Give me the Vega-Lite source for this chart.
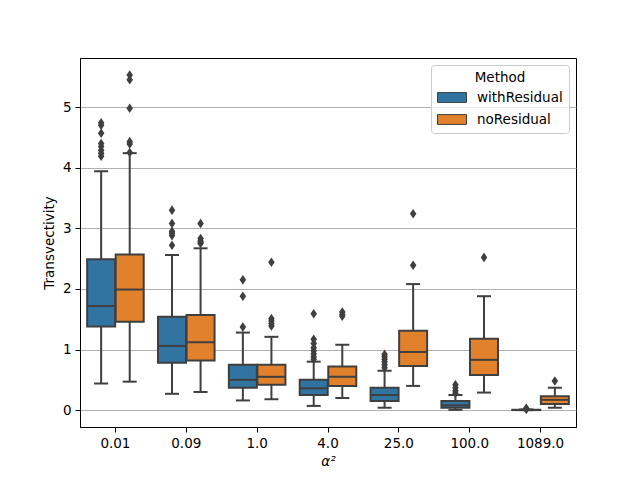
{
  "$schema": "https://vega.github.io/schema/vega-lite/v6.json",
  "autosize": {"type": "none"},
  "padding": {"left": 80, "top": 58, "right": 64, "bottom": 53},
  "width": 496,
  "height": 369,
  "background": "white",
  "config": {
    "font": "DejaVu Sans",
    "view": {"stroke": "black", "strokeWidth": 1},
    "axis": {
      "domainColor": "black",
      "domainWidth": 1,
      "tickColor": "black",
      "tickSize": 5,
      "tickWidth": 1,
      "labelFont": "DejaVu Sans",
      "labelFontSize": 13.5,
      "labelColor": "black",
      "labelPadding": 4,
      "titleFont": "DejaVu Sans",
      "titleFontSize": 13.5,
      "titleFontWeight": "normal",
      "titleColor": "black"
    },
    "legend": {
      "labelFont": "DejaVu Sans",
      "titleFont": "DejaVu Sans"
    }
  },
  "datasets": {
    "boxes": [
      {"alpha": "0.01", "method": "withResidual", "lower": 0.44, "q1": 1.38, "median": 1.72, "q3": 2.49, "upper": 3.94},
      {"alpha": "0.01", "method": "noResidual", "lower": 0.47, "q1": 1.46, "median": 1.99, "q3": 2.57, "upper": 4.24},
      {"alpha": "0.09", "method": "withResidual", "lower": 0.27, "q1": 0.78, "median": 1.06, "q3": 1.54, "upper": 2.56},
      {"alpha": "0.09", "method": "noResidual", "lower": 0.30, "q1": 0.82, "median": 1.12, "q3": 1.57, "upper": 2.67},
      {"alpha": "1.0", "method": "withResidual", "lower": 0.16, "q1": 0.37, "median": 0.50, "q3": 0.75, "upper": 1.28},
      {"alpha": "1.0", "method": "noResidual", "lower": 0.18, "q1": 0.42, "median": 0.55, "q3": 0.75, "upper": 1.21},
      {"alpha": "4.0", "method": "withResidual", "lower": 0.07, "q1": 0.25, "median": 0.36, "q3": 0.50, "upper": 0.80},
      {"alpha": "4.0", "method": "noResidual", "lower": 0.20, "q1": 0.40, "median": 0.55, "q3": 0.72, "upper": 1.08},
      {"alpha": "25.0", "method": "withResidual", "lower": 0.04, "q1": 0.15, "median": 0.25, "q3": 0.37, "upper": 0.65},
      {"alpha": "25.0", "method": "noResidual", "lower": 0.40, "q1": 0.73, "median": 0.96, "q3": 1.31, "upper": 2.08},
      {"alpha": "100.0", "method": "withResidual", "lower": 0.005, "q1": 0.04, "median": 0.08, "q3": 0.15, "upper": 0.25},
      {"alpha": "100.0", "method": "noResidual", "lower": 0.29, "q1": 0.58, "median": 0.83, "q3": 1.18, "upper": 1.88},
      {"alpha": "1089.0", "method": "withResidual", "lower": 0.0, "q1": 0.001, "median": 0.003, "q3": 0.006, "upper": 0.012},
      {"alpha": "1089.0", "method": "noResidual", "lower": 0.04, "q1": 0.10, "median": 0.17, "q3": 0.23, "upper": 0.37}
    ],
    "fliers": [
      {"alpha": "0.01", "method": "withResidual", "value": 4.74},
      {"alpha": "0.01", "method": "withResidual", "value": 4.70},
      {"alpha": "0.01", "method": "withResidual", "value": 4.57},
      {"alpha": "0.01", "method": "withResidual", "value": 4.40},
      {"alpha": "0.01", "method": "withResidual", "value": 4.35},
      {"alpha": "0.01", "method": "withResidual", "value": 4.29},
      {"alpha": "0.01", "method": "withResidual", "value": 4.24},
      {"alpha": "0.01", "method": "withResidual", "value": 4.19},
      {"alpha": "0.01", "method": "noResidual", "value": 5.53},
      {"alpha": "0.01", "method": "noResidual", "value": 5.45},
      {"alpha": "0.01", "method": "noResidual", "value": 4.98},
      {"alpha": "0.01", "method": "noResidual", "value": 4.43},
      {"alpha": "0.01", "method": "noResidual", "value": 4.39},
      {"alpha": "0.01", "method": "noResidual", "value": 4.25},
      {"alpha": "0.09", "method": "withResidual", "value": 3.30},
      {"alpha": "0.09", "method": "withResidual", "value": 3.08},
      {"alpha": "0.09", "method": "withResidual", "value": 2.95},
      {"alpha": "0.09", "method": "withResidual", "value": 2.92},
      {"alpha": "0.09", "method": "withResidual", "value": 2.88},
      {"alpha": "0.09", "method": "withResidual", "value": 2.72},
      {"alpha": "0.09", "method": "noResidual", "value": 3.08},
      {"alpha": "0.09", "method": "noResidual", "value": 2.83},
      {"alpha": "0.09", "method": "noResidual", "value": 2.79},
      {"alpha": "0.09", "method": "noResidual", "value": 2.77},
      {"alpha": "0.09", "method": "noResidual", "value": 2.75},
      {"alpha": "1.0", "method": "withResidual", "value": 2.15},
      {"alpha": "1.0", "method": "withResidual", "value": 1.88},
      {"alpha": "1.0", "method": "withResidual", "value": 1.37},
      {"alpha": "1.0", "method": "noResidual", "value": 2.44},
      {"alpha": "1.0", "method": "noResidual", "value": 1.51},
      {"alpha": "1.0", "method": "noResidual", "value": 1.47},
      {"alpha": "1.0", "method": "noResidual", "value": 1.43},
      {"alpha": "1.0", "method": "noResidual", "value": 1.39},
      {"alpha": "4.0", "method": "withResidual", "value": 1.59},
      {"alpha": "4.0", "method": "withResidual", "value": 1.17},
      {"alpha": "4.0", "method": "withResidual", "value": 1.10},
      {"alpha": "4.0", "method": "withResidual", "value": 1.03},
      {"alpha": "4.0", "method": "withResidual", "value": 0.98},
      {"alpha": "4.0", "method": "withResidual", "value": 0.93},
      {"alpha": "4.0", "method": "withResidual", "value": 0.88},
      {"alpha": "4.0", "method": "withResidual", "value": 0.84},
      {"alpha": "4.0", "method": "noResidual", "value": 1.62},
      {"alpha": "4.0", "method": "noResidual", "value": 1.58},
      {"alpha": "4.0", "method": "noResidual", "value": 1.55},
      {"alpha": "25.0", "method": "withResidual", "value": 0.92},
      {"alpha": "25.0", "method": "withResidual", "value": 0.88},
      {"alpha": "25.0", "method": "withResidual", "value": 0.84},
      {"alpha": "25.0", "method": "withResidual", "value": 0.80},
      {"alpha": "25.0", "method": "withResidual", "value": 0.75},
      {"alpha": "25.0", "method": "withResidual", "value": 0.70},
      {"alpha": "25.0", "method": "noResidual", "value": 3.24},
      {"alpha": "25.0", "method": "noResidual", "value": 2.39},
      {"alpha": "100.0", "method": "withResidual", "value": 0.42},
      {"alpha": "100.0", "method": "withResidual", "value": 0.37},
      {"alpha": "100.0", "method": "withResidual", "value": 0.32},
      {"alpha": "100.0", "method": "withResidual", "value": 0.28},
      {"alpha": "100.0", "method": "noResidual", "value": 2.52},
      {"alpha": "1089.0", "method": "withResidual", "value": 0.03},
      {"alpha": "1089.0", "method": "withResidual", "value": 0.02},
      {"alpha": "1089.0", "method": "withResidual", "value": 0.015},
      {"alpha": "1089.0", "method": "noResidual", "value": 0.48}
    ]
  },
  "encoding": {
    "x": {
      "field": "alpha",
      "type": "nominal",
      "scale": {
        "domain": ["0.01", "0.09", "1.0", "4.0", "25.0", "100.0", "1089.0"],
        "paddingInner": 0,
        "paddingOuter": 0
      },
      "axis": {"title": "α²", "titleFontStyle": "italic", "labelAngle": 0, "titlePadding": 5}
    },
    "xOffset": {
      "field": "method",
      "type": "nominal",
      "scale": {"domain": ["withResidual", "noResidual"], "paddingInner": 0.02, "paddingOuter": 0.25}
    }
  },
  "layer": [
    {
      "data": {"name": "boxes"},
      "mark": {"type": "rule", "color": "#3f3f3f", "strokeWidth": 2},
      "encoding": {
        "y": {
          "field": "lower",
          "type": "quantitative",
          "scale": {"domain": [-0.278, 5.81], "nice": false, "zero": false},
          "axis": {
            "title": "Transvectivity",
            "values": [0, 1, 2, 3, 4, 5],
            "format": "d",
            "grid": true,
            "gridColor": "#b0b0b0",
            "gridWidth": 1,
            "titlePadding": 6
          }
        },
        "y2": {"field": "upper"}
      }
    },
    {
      "data": {"name": "boxes"},
      "mark": {"type": "tick", "color": "#3f3f3f", "thickness": 2, "size": 14, "opacity": 1},
      "encoding": {"y": {"field": "lower", "type": "quantitative"}}
    },
    {
      "data": {"name": "boxes"},
      "mark": {"type": "tick", "color": "#3f3f3f", "thickness": 2, "size": 14, "opacity": 1},
      "encoding": {"y": {"field": "upper", "type": "quantitative"}}
    },
    {
      "data": {"name": "boxes"},
      "mark": {"type": "bar", "stroke": "#3f3f3f", "strokeWidth": 2, "opacity": 1},
      "encoding": {
        "y": {"field": "q1", "type": "quantitative"},
        "y2": {"field": "q3"},
        "color": {
          "field": "method",
          "type": "nominal",
          "scale": {"domain": ["withResidual", "noResidual"], "range": ["#3274a1", "#e1812c"]},
          "legend": {
            "title": "Method",
            "orient": "top-right",
            "offset": 7,
            "padding": 6,
            "fillColor": "rgba(255,255,255,0.8)",
            "strokeColor": "#cccccc",
            "cornerRadius": 3,
            "titleFontSize": 13.5,
            "titleFontWeight": "normal",
            "titleColor": "black",
            "titleAnchor": "middle",
            "titlePadding": -2,
            "labelFontSize": 13.5,
            "labelColor": "black",
            "labelOffset": 10,
            "symbolType": "M-1,-0.34H1V0.34H-1Z",
            "symbolSize": 841,
            "symbolStrokeColor": "#3f3f3f",
            "symbolStrokeWidth": 1,
            "symbolOpacity": 1,
            "rowPadding": -6
          }
        }
      }
    },
    {
      "data": {"name": "boxes"},
      "mark": {"type": "tick", "color": "#3f3f3f", "thickness": 2, "size": 28, "opacity": 1},
      "encoding": {"y": {"field": "median", "type": "quantitative"}}
    },
    {
      "data": {"name": "fliers"},
      "mark": {"type": "point", "shape": "M0,-1L0.68,0L0,1L-0.68,0Z", "filled": true, "color": "#3f3f3f", "size": 92, "opacity": 1},
      "encoding": {"y": {"field": "value", "type": "quantitative"}}
    }
  ]
}
